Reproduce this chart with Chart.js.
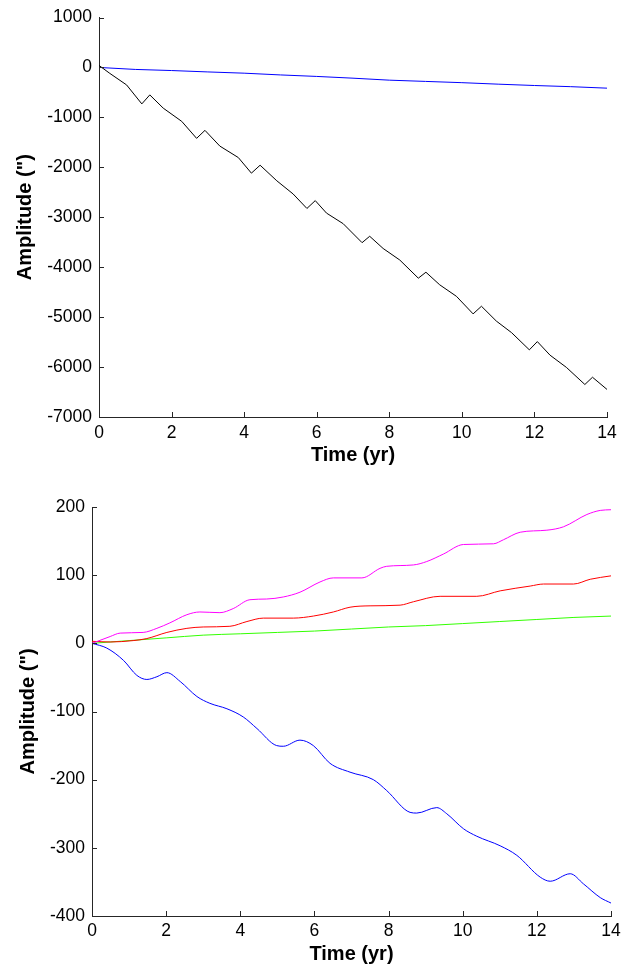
<!DOCTYPE html>
<html>
<head>
<meta charset="utf-8">
<script src="https://cdn.jsdelivr.net/npm/chart.js@4/dist/chart.umd.min.js"></script>
<style>
  html, body { margin: 0; padding: 0; background: #fff; }
  #wrap { position: relative; width: 637px; height: 968px; }
  .box { position: absolute; left: 0; width: 637px; height: 484px; }
  #b1 { top: 0; }
  #b2 { top: 484px; }
</style>
</head>
<body>
<div id="wrap">
  <div class="box" id="b1"><canvas id="c1" width="637" height="484"></canvas></div>
  <div class="box" id="b2"><canvas id="c2" width="637" height="484"></canvas></div>
</div>
<script>
// ---------- Top panel data ----------
const topBlackT = [0, 0.3, 0.76, 1.18, 1.40, 1.77, 2.28, 2.69, 2.92, 3.33, 3.84, 4.20, 4.44, 4.90, 5.35, 5.73, 5.96, 6.27, 6.73, 7.25, 7.46, 7.83, 8.29, 8.80, 9.01, 9.39, 9.85, 10.31, 10.54, 10.95, 11.37, 11.86, 12.08, 12.43, 12.88, 13.39, 13.60, 14.0];
const topBlackV = [40, -120, -350, -730, -550, -815, -1080, -1420, -1260, -1575, -1805, -2117, -1958, -2270, -2534, -2824, -2667, -2917, -3129, -3509, -3381, -3625, -3857, -4220, -4101, -4353, -4583, -4935, -4782, -5079, -5311, -5655, -5490, -5762, -6006, -6349, -6204, -6448];
const topBlueT = [0, 1, 2, 3, 4, 5, 6, 7, 8, 9, 10, 11, 12, 13, 14];
const topBlueV = [0, -40, -62, -90, -115, -150, -180, -215, -255, -280, -305, -335, -362, -385, -415];

// ---------- Bottom panel data ----------
const magT = [0, 0.49, 0.76, 1.38, 1.75, 2.10, 2.56, 2.91, 3.45, 3.81, 4.26, 4.71, 5.16, 5.61, 6.15, 6.51, 7.28, 7.77, 7.95, 8.67, 9.03, 9.48, 10.02, 10.83, 11.10, 11.55, 12.27, 12.72, 13.35, 13.71, 14.0];
const magV = [0, 10, 15, 16, 22, 30, 42, 46, 45, 51, 64, 65, 68, 75, 90, 96, 96, 110, 113, 115, 120, 131, 145, 146, 152, 163, 166, 171, 189, 195, 196];
const redT = [0, 0.49, 1.11, 1.48, 2.02, 2.56, 3.0, 3.72, 4.18, 4.62, 5.43, 5.97, 6.51, 6.96, 7.5, 8.31, 8.67, 9.39, 10.38, 11.01, 11.82, 12.18, 12.99, 13.44, 14.0];
const redV = [3, 2, 4, 7, 16, 22, 24, 25, 32, 37, 37, 40, 46, 53, 55, 56, 61, 69, 69, 77, 84, 87, 87, 94, 99];
const greenT = [0, 1, 2, 3, 4, 5, 6, 7, 8, 9, 10, 11, 12, 13, 14];
const greenV = [0, 4, 8, 12, 14, 16, 18, 21, 24, 26, 29, 32, 35, 38, 40];
const blueT = [0, 0.4, 0.85, 1.21, 1.48, 1.75, 2.02, 2.38, 2.83, 3.18, 3.64, 4.08, 4.45, 4.98, 5.16, 5.61, 5.97, 6.42, 6.96, 7.59, 7.95, 8.58, 8.76, 9.30, 9.57, 10.02, 10.38, 11.01, 11.46, 12.09, 12.36, 12.90, 13.26, 13.71, 14.0];
const blueV = [0, -7, -25, -47, -53, -49, -43, -56, -78, -88, -96, -108, -125, -150, -151, -142, -150, -176, -189, -200, -216, -248, -249, -241, -250, -272, -283, -297, -311, -343, -349, -338, -353, -373, -381];

// ---------- Axis labels ----------
const xTitle = 'Time (yr)';
const yTitle = 'Amplitude (")';

const pts = (t, v) => t.map((x, i) => ({ x: x, y: v[i] }));

const AXIS_COLOR = '#262626';
const FONT = 'Liberation Sans, Arial, Helvetica, sans-serif';

const inwardTicks = {
  id: 'inwardTicks',
  afterDraw(chart) {
    const ctx = chart.ctx, a = chart.chartArea;
    const xs = chart.scales.x, ys = chart.scales.y;
    ctx.save();
    ctx.strokeStyle = AXIS_COLOR;
    ctx.lineWidth = 1;
    xs.ticks.forEach((t, i) => {
      const px = Math.round(xs.getPixelForTick(i)) + 0.5;
      ctx.beginPath(); ctx.moveTo(px, a.bottom); ctx.lineTo(px, a.bottom - 5); ctx.stroke();
    });
    ys.ticks.forEach((t, i) => {
      const py = Math.round(ys.getPixelForTick(i)) + 0.5;
      ctx.beginPath(); ctx.moveTo(a.left, py); ctx.lineTo(a.left + 5, py); ctx.stroke();
    });
    ctx.restore();
  }
};

function line(label, t, v, color, smooth) {
  return {
    label: label,
    data: pts(t, v),
    borderColor: color,
    backgroundColor: color,
    borderWidth: 1,
    pointRadius: 0,
    fill: false,
    tension: 0,
    cubicInterpolationMode: smooth ? 'monotone' : 'default'
  };
}

function makeChart(id, datasets, yMin, yMax, yStep, pad, yWidth, xHeight, yTitlePad, xTitlePad, xLabelPad) {
  return new Chart(document.getElementById(id), {
    type: 'line',
    data: { datasets: datasets },
    options: {
      responsive: false,
      animation: false,
      devicePixelRatio: 1,
      layout: { padding: pad },
      plugins: { legend: { display: false }, tooltip: { enabled: false } },
      scales: {
        x: {
          type: 'linear',
          min: 0, max: 14,
          grid: { display: false, drawTicks: false },
          border: { display: true, color: AXIS_COLOR, width: 1 },
          ticks: {
            stepSize: 2, color: '#000', padding: xLabelPad, maxRotation: 0,
            font: { family: FONT, size: 17.5 },
            callback: v => String(v)
          },
          title: {
            display: true, text: xTitle, color: '#000',
            font: { family: FONT, size: 20, weight: 'bold' },
            padding: { top: 0, bottom: xTitlePad }
          },
          afterFit: s => { s.height = xHeight; }
        },
        y: {
          type: 'linear',
          min: yMin, max: yMax,
          grid: { display: false, drawTicks: false },
          border: { display: true, color: AXIS_COLOR, width: 1 },
          ticks: {
            stepSize: yStep, color: '#000', padding: 7,
            font: { family: FONT, size: 17.5 },
            callback: v => String(v)
          },
          title: {
            display: true, text: yTitle, color: '#000',
            font: { family: FONT, size: 20, weight: 'bold' },
            padding: { top: yTitlePad, bottom: 0 }
          },
          afterFit: s => { s.width = yWidth; }
        }
      }
    },
    plugins: [inwardTicks]
  });
}

makeChart('c1', [
  line('black', topBlackT, topBlackV, '#000000', false),
  line('blue', topBlueT, topBlueV, '#0000ff', false)
], -7000, 1000, 1000, { left: 0, top: 14, right: 30, bottom: 0 }, 99, 67, 13, 17, 6);

makeChart('c2', [
  line('magenta', magT, magV, '#ff00ff', true),
  line('red', redT, redV, '#ff0000', true),
  line('green', greenT, greenV, '#33ff00', true),
  line('blue', blueT, blueV, '#0000ff', true)
], -400, 200, 100, { left: 0, top: 23, right: 26, bottom: 0 }, 92, 52, 16, 2, 5);
</script>
</body>
</html>
